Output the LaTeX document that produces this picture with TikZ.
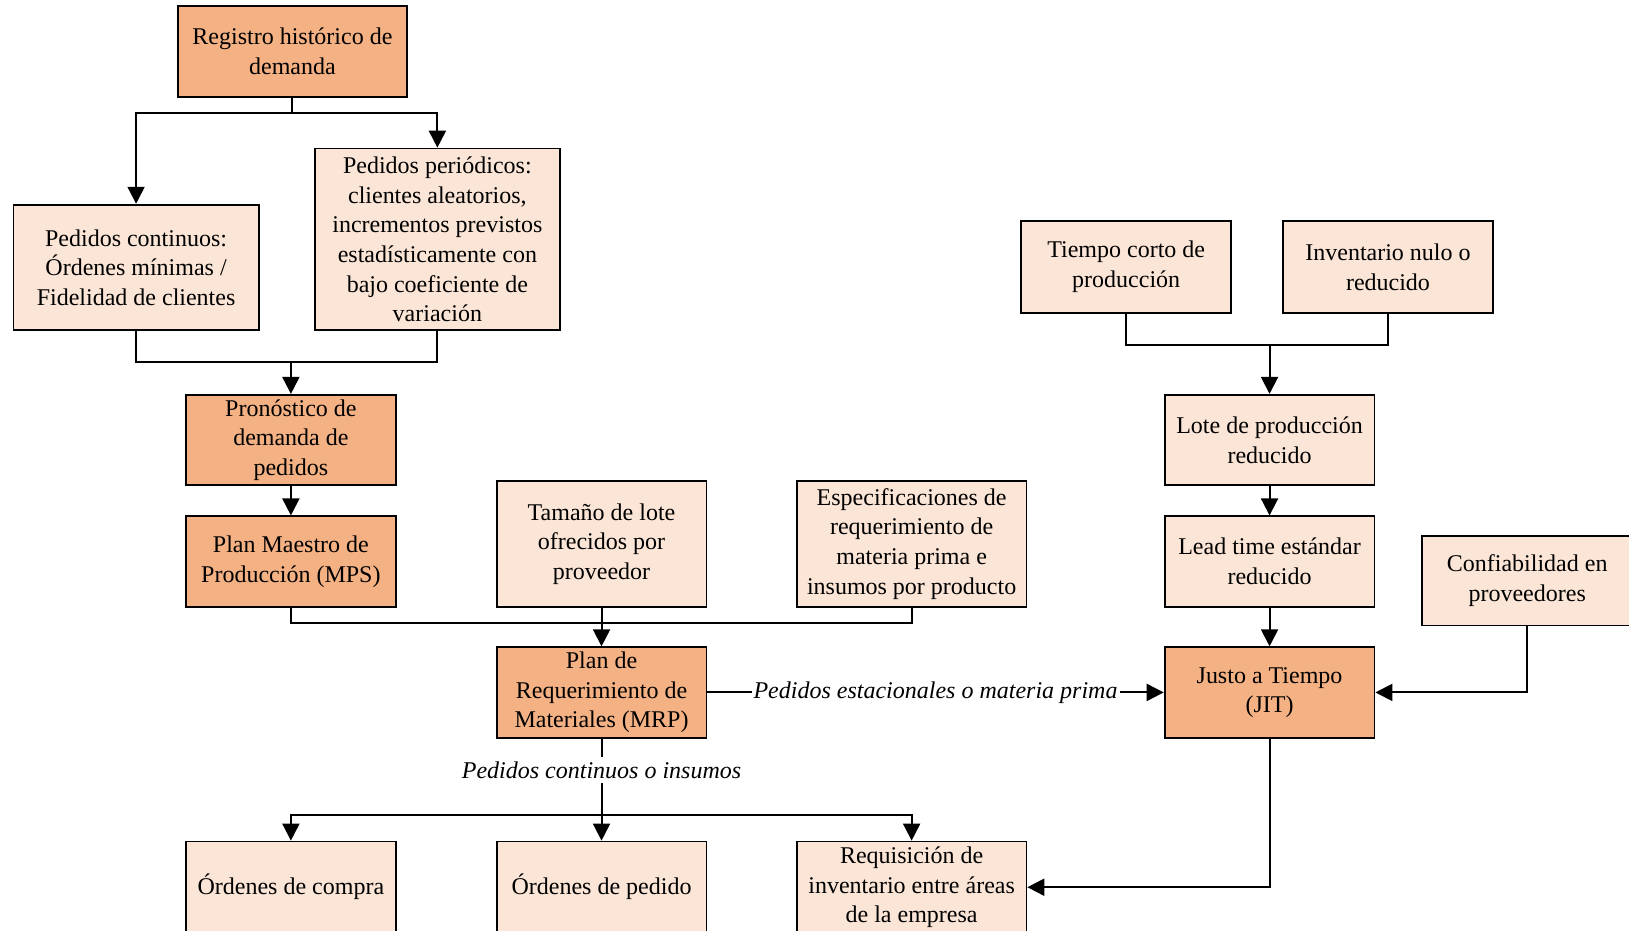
\documentclass[tikz,border=0pt]{standalone}
\usepackage{fontspec}
\setmainfont{Liberation Serif}
\usetikzlibrary{arrows.meta}
\definecolor{boxdark}{RGB}{244,177,131}
\definecolor{boxlight}{RGB}{251,229,214}
\def\pxu{0.5195pt}
\begin{document}
\begin{tikzpicture}[x=\pxu,y=-\pxu,
  every node/.style={font=\fontsize{12}{14.8}\selectfont},
  box/.style={draw=black,line width=0.9pt,rectangle,align=center,inner sep=0pt,
    minimum width=#1*\pxu},
  box/.default=202,
  dark/.style={fill=boxdark},
  light/.style={fill=boxlight},
  ht/.style={minimum height=#1*\pxu},
  conn/.style={line width=1pt,line join=miter},
  arr/.style={conn,-{Triangle[length=8.5pt,width=8.5pt]}},
  lbl/.style={font=\fontsize{12}{14.8}\selectfont\itshape,fill=white,inner sep=1pt}
]
\useasboundingbox (0,0) rectangle (1568,896);
\clip (0,0) rectangle (1568,896);

% demand side
\node[box=221,ht=87,dark] (reg) at (281.5,49.5) {Registro histórico de\\demanda};
\node[box=236,ht=121,light] (pc) at (131,257.5) {Pedidos continuos:\\Órdenes mínimas /\\Fidelidad de clientes};
\node[box=236,ht=175,light] (pp) at (421,230.5) {Pedidos periódicos:\\clientes aleatorios,\\incrementos previstos\\estadísticamente con\\bajo coeficiente de\\variación};
\node[box,ht=87,dark] (pron) at (280,423.5) {Pronóstico de\\demanda de\\pedidos};
\node[box,ht=87,dark] (mps) at (280,540.5) {Plan Maestro de\\Producción (MPS)};

% planning inputs
\node[box,ht=121,light] (tam) at (579,523.5) {Tamaño de lote\\ofrecidos por\\proveedor};
\node[box=221,ht=121,light] (esp) at (877.5,523.5) {Especificaciones de\\requerimiento de\\materia prima e\\insumos por producto};
\node[box,ht=87,dark] (mrp) at (579,666.5) {Plan de\\Requerimiento de\\Materiales (MRP)};

% outputs
\node[box,ht=88,light] (oc) at (280,854) {Órdenes de compra};
\node[box,ht=88,light] (op) at (579,854) {Órdenes de pedido};
\node[box=221,ht=88,light] (req) at (877.5,854) {Requisición de\\inventario entre áreas\\de la empresa};

% just in time branch
\node[box,ht=88,light] (tc) at (1084,257) {Tiempo corto de\\producción};
\node[box,ht=88,light] (inv) at (1336,257) {Inventario nulo o\\reducido};
\node[box,ht=87,light] (lote) at (1222,423.5) {Lote de producción\\reducido};
\node[box,ht=87,light] (lead) at (1222,540.5) {Lead time estándar\\reducido};
\node[box,ht=87,dark] (jit) at (1222,666.5) {Justo a Tiempo\\(JIT)};
\node[box,ht=86,light] (conf) at (1470,559) {Confiabilidad en\\proveedores};

% junction points
\coordinate (j1) at (281.5,109);
\coordinate (j2) at (280,348);
\coordinate (j3) at (579,600);
\coordinate (j4) at (579,784);
\coordinate (j5) at (1222,332);

% demand connectors
\draw[conn] (reg.south) -- (j1);
\draw[arr] (j1) -| (pc.north);
\draw[arr] (j1) -| (pp.north);
\draw[conn] (pc.south) |- (j2);
\draw[conn] (pp.south) |- (j2);
\draw[arr] (j2) -- (pron.north);
\draw[arr] (pron.south) -- (mps.north);

% MRP inputs
\draw[conn] (mps.south) |- (j3);
\draw[conn] (esp.south) |- (j3);
\draw[arr] (tam.south) -- (mrp.north);

% MRP to JIT
\draw[arr] (mrp.east) -- node[lbl] (lblA) {Pedidos estacionales o materia prima} (jit.west);

% MRP outputs
\node[lbl,inner sep=2pt] (lblB) at (579,741) {Pedidos continuos o insumos};
\draw[conn] (mrp.south) -- (lblB.north);
\draw[conn] (lblB.south) -- (j4);
\draw[arr] (j4) -| (oc.north);
\draw[arr] (j4) -- (op.north);
\draw[arr] (j4) -| (req.north);

% JIT connectors
\draw[conn] (tc.south) |- (j5);
\draw[conn] (inv.south) |- (j5);
\draw[arr] (j5) -- (lote.north);
\draw[arr] (lote.south) -- (lead.north);
\draw[arr] (lead.south) -- (jit.north);
\draw[arr] (conf.south) |- (jit.east);
\draw[arr] (jit.south) |- (req.east);
\end{tikzpicture}
\end{document}
